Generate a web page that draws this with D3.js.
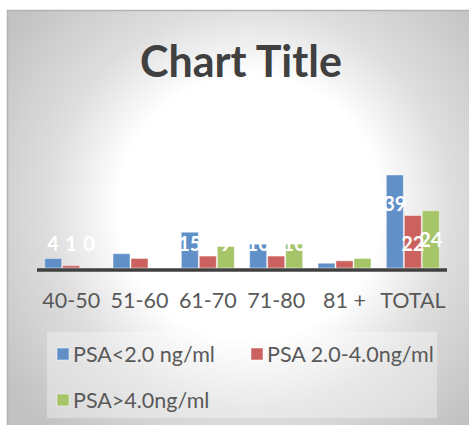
<!DOCTYPE html>
<html>
<head>
<meta charset="utf-8">
<script src="https://cdn.jsdelivr.net/npm/d3@7"></script>
<style>
  html, body { margin: 0; padding: 0; background: #ffffff; }
  svg { display: block; }
</style>
</head>
<body>
<script>
// Age groups and PSA-level counts
const categories = ["40-50", "51-60", "61-70", "71-80", "81 +", "TOTAL"];
const seriesNames = ["PSA<2.0 ng/ml", "PSA 2.0-4.0ng/ml", "PSA>4.0ng/ml"];
const psaBelow2 = [4, 6, 15, 10, 2, 39];
const psa2to4 = [1, 4, 5, 5, 3, 22];
const psaAbove4 = [0, 0, 9, 10, 4, 24];
const seriesColors = ["#6190c8", "#cc625f", "#a6c468"];
const chartTitle = "Chart Title";

const W = 469, H = 425;
const font = "Lato, 'Open Sans', sans-serif";

const series = seriesNames.map((name, i) => ({
  name,
  color: seriesColors[i],
  values: [psaBelow2, psa2to4, psaAbove4][i]
}));

const svg = d3.select("body").append("svg")
  .attr("width", W).attr("height", H);

// soft radial backdrop of the chart area
const defs = svg.append("defs");
const grad = defs.append("radialGradient")
  .attr("id", "bg")
  .attr("gradientUnits", "userSpaceOnUse")
  .attr("cx", 250).attr("cy", 208).attr("r", 300);
grad.append("stop").attr("offset", 0).attr("stop-color", "#ffffff");
grad.append("stop").attr("offset", 0.44).attr("stop-color", "#ffffff");
grad.append("stop").attr("offset", 0.67).attr("stop-color", "#dedede");
grad.append("stop").attr("offset", 1).attr("stop-color", "#c2c2c2");

svg.append("rect")
  .attr("x", 7).attr("y", 10).attr("width", W - 7).attr("height", H - 10)
  .attr("fill", "url(#bg)");
svg.append("path")
  .attr("d", `M7.5,${H} V10.5 H${W}`)
  .attr("fill", "none").attr("stroke", "#b3b3b3").attr("stroke-width", 1.5);

// title
svg.append("text")
  .attr("x", 241).attr("y", 77)
  .attr("text-anchor", "middle")
  .attr("font-family", font).attr("font-weight", 700)
  .attr("font-size", 43).attr("fill", "#404040")
  .text(chartTitle);

// scales
const x0 = d3.scaleBand().domain(categories)
  .range([37, 447]).paddingInner(0.21).paddingOuter(0.105);
const x1 = d3.scaleBand().domain(d3.range(series.length))
  .range([0, x0.bandwidth()]);
const y = d3.scaleLinear().domain([0, 40]).range([268, 172.6]);

// bars
const groups = svg.append("g").selectAll("g")
  .data(categories)
  .join("g")
  .attr("transform", d => `translate(${x0(d)},0)`);

groups.selectAll("rect")
  .data((c, ci) => series.map((s, si) => ({ si, v: s.values[ci], color: s.color })))
  .join("rect")
  .attr("x", d => x1(d.si) + 0.5)
  .attr("width", x1.bandwidth() - 1)
  .attr("y", d => y(d.v))
  .attr("height", d => y(0) - y(d.v))
  .attr("fill", d => d.color)
  .attr("stroke", "#ffffff").attr("stroke-opacity", 0.45).attr("stroke-width", 1);

// value labels
groups.selectAll("text")
  .data((c, ci) => series.map((s, si) => ({ si, v: s.values[ci] })))
  .join("text")
  .attr("x", d => x1(d.si) + x1.bandwidth() / 2)
  .attr("y", d => Math.min(y(d.v) + 29, 244))
  .attr("dy", "0.36em")
  .attr("text-anchor", "middle")
  .attr("font-family", font).attr("font-weight", 700)
  .attr("font-size", 20).attr("fill", "#ffffff")
  .text(d => d.v);

// category axis
const xAxis = svg.append("g")
  .attr("transform", `translate(0,${y(0)})`)
  .call(d3.axisBottom(x0).tickSize(0).tickPadding(25));
xAxis.select(".domain")
  .attr("d", "M37,2H447")
  .attr("stroke", "#404040").attr("stroke-width", 3.5);
xAxis.selectAll("text")
  .attr("font-family", font).attr("font-size", 21.5).attr("fill", "#595959");

// legend
svg.append("rect")
  .attr("x", 47).attr("y", 332).attr("width", 390).attr("height", 86)
  .attr("fill", "#ffffff").attr("fill-opacity", 0.33);

const legendPos = [[57, 354], [251, 354], [57, 400]];
const legend = svg.append("g").selectAll("g")
  .data(series)
  .join("g")
  .attr("transform", (d, i) => `translate(${legendPos[i][0]},${legendPos[i][1]})`);
legend.append("rect")
  .attr("x", 0).attr("y", -6).attr("width", 12).attr("height", 12)
  .attr("fill", d => d.color)
  .attr("stroke", "#ffffff").attr("stroke-opacity", 0.5);
legend.append("text")
  .attr("x", 16).attr("dy", "0.36em")
  .attr("font-family", font).attr("font-size", 21.5).attr("fill", "#595959")
  .text(d => d.name);
</script>
</body>
</html>
